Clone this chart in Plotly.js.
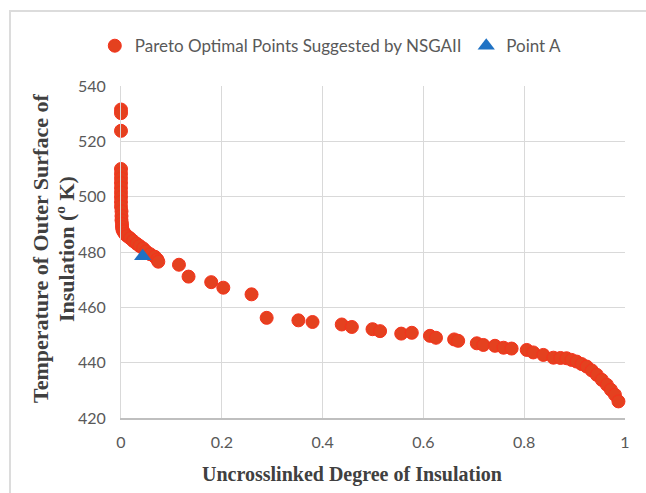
<!DOCTYPE html>
<html>
<head>
<meta charset="utf-8">
<script src="https://cdn.plot.ly/plotly-3.0.1.min.js"></script>
<style>
  html, body { margin: 0; padding: 0; background: #fff; }
  #wrap { position: relative; width: 646px; height: 493px; overflow: hidden; }
  #frame { position: absolute; left: 9px; top: 10px; width: 700px; height: 600px;
           border-left: 2px solid #dcdcdc; border-top: 2px solid #dcdcdc; pointer-events: none; }
  #chart { position: absolute; left: 0; top: 0; width: 646px; height: 493px; }
</style>
</head>
<body>
<div id="wrap">
  <div id="chart"></div>
  <div id="frame"></div>
</div>
<script>
// Pareto optimal points (uncrosslinked degree, temperature in K)
const paretoX = [
  0, 0, 0,
  0, 0, 0, 0, 0, 0, 0, 0, 0, 0.001, 0.001, 0.001, 0.002, 0.002, 0.003,
  0.005, 0.008, 0.012, 0.018, 0.024, 0.031, 0.037, 0.044, 0.050, 0.058, 0.067, 0.072, 0.074,
  0.115, 0.134, 0.179, 0.203, 0.259, 0.289, 0.352, 0.380, 0.438, 0.458, 0.499, 0.514,
  0.556, 0.577, 0.613, 0.625, 0.661, 0.669, 0.706, 0.719, 0.742, 0.759, 0.775,
  0.805, 0.818, 0.838, 0.858, 0.872, 0.884, 0.894, 0.904, 0.914, 0.924, 0.934,
  0.944, 0.954, 0.964, 0.972, 0.980, 0.987
];
const paretoY = [
  531.5, 530.2, 523.8,
  510, 508.3, 506.6, 504.9, 503.2, 501.5, 499.8, 498.1, 496.4, 494.7, 493.0, 491.5, 490.2, 489.0, 488.0,
  487.3, 486.5, 485.8, 485.0, 484.0, 483.0, 482.2, 481.3, 480.2, 479.2, 478.3, 477.3, 476.5,
  475.4, 471.1, 469.1, 467.1, 464.7, 456.2, 455.3, 454.7, 453.8, 452.9, 452.1, 451.4,
  450.5, 450.8, 449.7, 449.0, 448.4, 447.9, 447.0, 446.4, 446.1, 445.4, 445.1,
  444.6, 443.7, 442.8, 441.8, 441.7, 441.6, 441.0, 440.4, 439.5, 438.6, 437.2,
  435.6, 433.8, 432.0, 430.2, 428.4, 426.0
];
// Point A
const pointAX = [0.043];
const pointAY = [478.5];

const xTicks = [0, 0.2, 0.4, 0.6, 0.8, 1];
const xTickText = ['0', '0.2', '0.4', '0.6', '0.8', '1'];
const yTicks = [420, 440, 460, 480, 500, 520, 540];

const seriesNames = ['Pareto Optimal Points Suggested by NSGAII', 'Point A'];
const xTitle = 'Uncrosslinked Degree of Insulation';
const yTitleLine1 = 'Temperature of Outer Surface of';
const yTitleLine2 = 'Insulation (<sup>o</sup> K)';

const traces = [
  {
    x: paretoX, y: paretoY, type: 'scatter', mode: 'markers', name: seriesNames[0],
    marker: { symbol: 'circle', size: 13, color: '#e4411f', line: { color: '#f5321c', width: 1 } },
    cliponaxis: false, legend: 'legend'
  },
  {
    x: pointAX, y: pointAY, type: 'scatter', mode: 'markers', name: seriesNames[1],
    marker: { symbol: 'triangle-up', size: 15, color: '#1f72c4' },
    cliponaxis: false, legend: 'legend2'
  }
];

const tickFont = { family: 'Lato, "Open Sans", sans-serif', size: 16, color: '#595959' };
const legendFont = { family: 'Lato, "Open Sans", sans-serif', size: 17, color: '#595959' };
const titleFont = { family: '"Liberation Serif", "Times New Roman", serif', size: 20, color: '#404040', weight: 'bold' };
const yTitleFont = { family: '"Liberation Serif", "Times New Roman", serif', size: 22, color: '#404040', weight: 'bold' };

const layout = {
  width: 646, height: 493,
  margin: { l: 121, r: 21, t: 86, b: 75 },
  paper_bgcolor: 'rgba(0,0,0,0)',
  plot_bgcolor: '#ffffff',
  showlegend: true,
  legend: {
    orientation: 'h', x: -0.052, y: 1.12, xanchor: 'left', yanchor: 'middle',
    font: legendFont, bgcolor: 'rgba(0,0,0,0)', itemclick: false
  },
  legend2: {
    orientation: 'h', x: 0.685, y: 1.12, xanchor: 'left', yanchor: 'middle',
    font: legendFont, bgcolor: 'rgba(0,0,0,0)', itemclick: false
  },
  xaxis: {
    range: [0, 1], tickvals: xTicks, ticktext: xTickText,
    showgrid: true, gridcolor: '#d9d9d9', gridwidth: 1,
    zeroline: false, showline: true, linecolor: '#bfbfbf', linewidth: 2,
    ticks: '', tickfont: tickFont, ticklabelstandoff: 9, fixedrange: true
  },
  yaxis: {
    range: [420, 540], tickvals: yTicks,
    showgrid: true, gridcolor: '#d9d9d9', gridwidth: 1,
    zeroline: false, showline: true, linecolor: '#d9d9d9', linewidth: 1,
    ticks: '', tickfont: tickFont, ticklabelstandoff: 11, fixedrange: true
  },
  annotations: [
    {
      text: xTitle,
      xref: 'paper', yref: 'paper', x: (352 - 121) / 504, y: -0.17,
      xanchor: 'center', yanchor: 'middle', showarrow: false,
      font: titleFont
    },
    {
      text: yTitleLine1,
      xref: 'paper', yref: 'paper', x: (40 - 121) / 504, y: (418 - 249) / 332,
      xanchor: 'center', yanchor: 'middle', showarrow: false, textangle: -90,
      font: yTitleFont
    },
    {
      text: yTitleLine2,
      xref: 'paper', yref: 'paper', x: (65 - 121) / 504, y: (418 - 249) / 332,
      xanchor: 'center', yanchor: 'middle', showarrow: false, textangle: -90,
      font: yTitleFont
    }
  ]
};

Plotly.newPlot('chart', traces, layout, { displayModeBar: false, staticPlot: true });
</script>
</body>
</html>
